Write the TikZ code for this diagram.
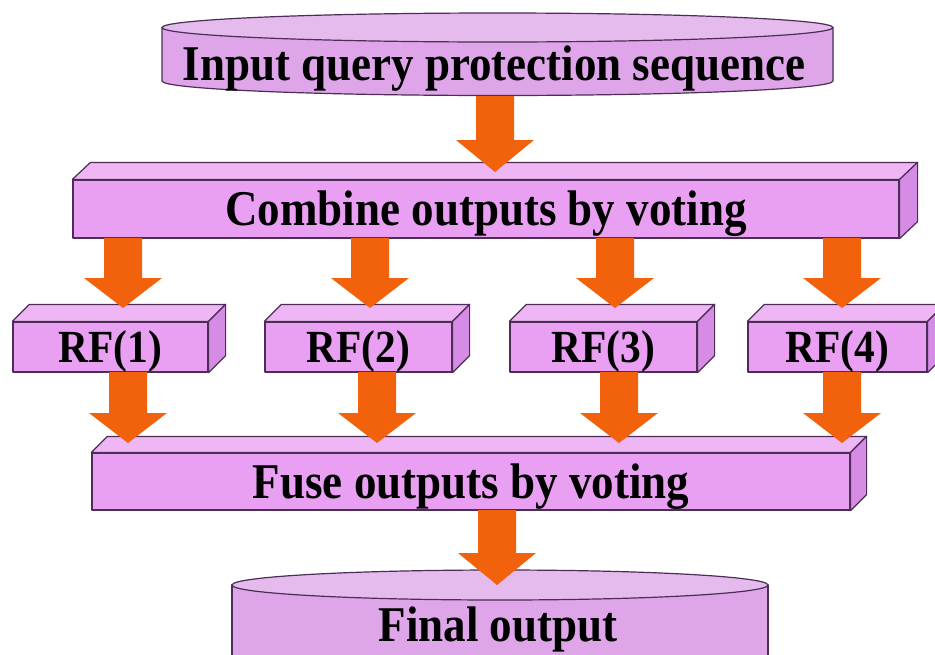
\documentclass[tikz,border=0pt]{standalone}
\usepackage{fontspec}
\setmainfont{Liberation Serif}
\usetikzlibrary{calc}
\definecolor{boxfront}{RGB}{233,160,242}
\definecolor{boxtop}{RGB}{238,182,245}
\definecolor{boxside}{RGB}{214,140,228}
\definecolor{cylbody}{RGB}{222,166,232}
\definecolor{cyltop}{RGB}{229,186,237}
\definecolor{edge}{RGB}{75,45,85}
\definecolor{arrowcol}{RGB}{242,98,12}
\newcommand\sq[1]{\scalebox{0.9}[1]{#1}}
\newcommand\slabfaces[3]{%
  \draw[boxline, fill=boxtop] (#1.north west) -- ++(#2,-#3) -- ([shift={(#2,-#3)}]#1.north east) -- (#1.north east) -- cycle;
  \draw[boxline, fill=boxside] (#1.north east) -- ++(#2,-#3) -- ([shift={(#2,-#3)}]#1.south east) -- (#1.south east) -- cycle;}
\newcommand\fatarrow[3]{%
  \fill[arrowcol] let \p1=(#1), \p2=(#2) in
    (\x1-19pt,\y1) -- (\x1+19pt,\y1) -- (\x1+19pt,\y2+#3pt) -- (\x1+39pt,\y2+#3pt)
    -- (\x1,\y2) -- (\x1-39pt,\y2+#3pt) -- (\x1-19pt,\y2+#3pt) -- cycle;}
\begin{document}
\begin{tikzpicture}[x=1pt,y=-1pt,
  boxline/.style={draw=edge, line width=1.2pt, line join=round},
  front/.style={boxline, fill=boxfront, inner sep=0pt, text height=33pt, text depth=0pt,
    font=\fontsize{50}{50}\selectfont\bfseries},
  rfbox/.style={front, minimum height=50pt, text height=30pt, font=\fontsize{46}{46}\selectfont\bfseries},
  cyltext/.style={inner sep=0pt, anchor=base, font=\fontsize{50}{50}\selectfont\bfseries}]
\useasboundingbox (0,0) rectangle (935,654);
\clip (0,0) rectangle (935,654);
\fill[white] (0,0) rectangle (935,654);

% top cylinder
\draw[boxline, fill=cylbody] (162,27.5) -- (162,81) arc[start angle=180, end angle=360, x radius=335.5pt, y radius=14.5pt] -- (833,27.5) -- cycle;
\draw[boxline, fill=cyltop] (497.5,27.5) ellipse[x radius=335.5pt, y radius=14.5pt];
\node[cyltext] (inq) at (494,80) {\sq{Input query protection sequence}};

% combine box
\node[front, minimum width=826pt, minimum height=58pt] (comb) at (486,209) {\sq{Combine outputs by voting}};
\slabfaces{comb}{18}{17}

% RF boxes
\node[rfbox, minimum width=195pt] (rf1) at (110.5,347) {\sq{RF(1)}};
\node[rfbox, minimum width=187pt] (rf2) at (358.5,347) {\sq{RF(2)}};
\node[rfbox, minimum width=187pt] (rf3) at (603.5,347) {\sq{RF(3)}};
\node[rfbox, minimum width=179pt] (rf4) at (837.5,347) {\sq{RF(4)}};
\slabfaces{rf1}{17}{17}
\slabfaces{rf2}{17}{17}
\slabfaces{rf3}{17}{17}
\slabfaces{rf4}{17}{17}

% fuse box
\node[front, minimum width=758pt, minimum height=57pt] (fuse) at (471,481.5) {\sq{Fuse outputs by voting}};
\slabfaces{fuse}{16}{16}

% bottom cylinder
\draw[boxline, fill=cylbody] (232,585) -- (232,700) -- (768,700) -- (768,585) -- cycle;
\draw[boxline, fill=cyltop] (500,585) ellipse[x radius=268pt, y radius=15pt];
\node[cyltext] (fin) at (498,641) {\sq{Final output}};

% arrows
\coordinate (a0s) at (495,96);  \coordinate (a0e) at (495,172);
\fatarrow{a0s}{a0e}{32}
\coordinate (b1s) at (123,238); \coordinate (b1e) at (123,308);
\coordinate (b2s) at (370,238); \coordinate (b2e) at (370,308);
\coordinate (b3s) at (615,238); \coordinate (b3e) at (615,308);
\coordinate (b4s) at (842,238); \coordinate (b4e) at (842,308);
\fatarrow{b1s}{b1e}{30}
\fatarrow{b2s}{b2e}{30}
\fatarrow{b3s}{b3e}{30}
\fatarrow{b4s}{b4e}{30}
\coordinate (c1s) at (128,372); \coordinate (c1e) at (128,443);
\coordinate (c2s) at (377,372); \coordinate (c2e) at (377,443);
\coordinate (c3s) at (619,372); \coordinate (c3e) at (619,443);
\coordinate (c4s) at (842,372); \coordinate (c4e) at (842,443);
\fatarrow{c1s}{c1e}{30}
\fatarrow{c2s}{c2e}{30}
\fatarrow{c3s}{c3e}{30}
\fatarrow{c4s}{c4e}{30}
\coordinate (d0s) at (497,510); \coordinate (d0e) at (497,585);
\fatarrow{d0s}{d0e}{32}
\end{tikzpicture}
\end{document}
